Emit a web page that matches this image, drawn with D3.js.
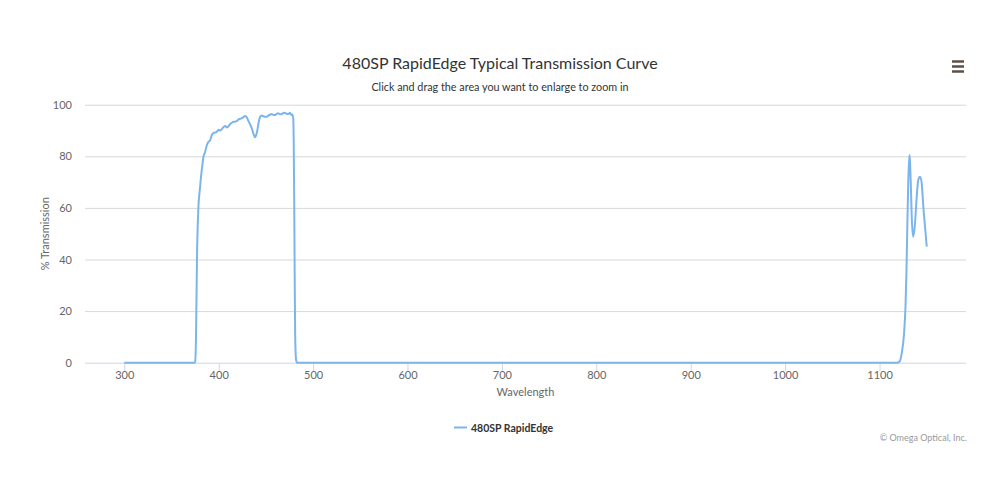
<!DOCTYPE html>
<html><head><meta charset="utf-8">
<script src="https://cdn.jsdelivr.net/npm/d3@7/dist/d3.min.js"></script>
<style>body{margin:0;background:#fff;} svg{font-family:Lato,"Open Sans",sans-serif;}</style>
</head><body>
<svg id="c" width="1000" height="500"></svg>
<script>
const chartTitle = "480SP RapidEdge Typical Transmission Curve";
const chartSubtitle = "Click and drag the area you want to enlarge to zoom in";
const seriesName = "480SP RapidEdge";
const xTicks = [300,400,500,600,700,800,900,1000,1100];
const yTicks = [0,20,40,60,80,100];
const wavelength = [300,350,370,374,375,376,377,378.5,380,381,382.5,384,385.5,387,389,391,392.5,394,396,398,400,401.5,403,405,407,408.5,410,412,414,415.5,417,419,421,422.5,424,426,428,429.5,431,433,435,437,438.5,440,441,442.5,444,445.5,447,449,451,453,454.5,456,458,460,461.5,463,465,467,468.5,470,472,474,475.5,477,478,479,479.5,480,480.5,481,482,483,490,600,800,1000,1100,1115,1119,1121.5,1123.5,1126,1127.5,1128.5,1129.5,1130.5,1131.6,1132.3,1133,1134.4,1135.8,1137.6,1139.4,1141,1143,1144.7,1146.4,1148.2,1150];
const transmission = [0,0,0,0,0.3,10,40,60,67,71,76,80,81.5,83.7,85.5,86.3,88,88.9,89.2,89.5,90.3,90,90.4,91.3,91.7,91.2,91.5,92.4,93.0,93.4,93.4,93.6,94.3,94.5,94.7,95.1,95.6,95.2,94.1,92.6,90.9,88.5,87.4,88.6,90.2,93.5,95.3,95.8,95.6,95.3,95.3,95.9,96.1,96.4,96.0,96.0,96.5,96.7,96.3,96.4,96.8,96.9,96.5,96.4,96.9,96.0,96.2,94.7,85,63,35,11,1,0,0,0,0,0,0,0,0,0.6,3.6,11.4,21.7,34.7,54,70.8,80.5,78,70.8,54,48.8,54,64.3,70.8,72.1,69.5,60.5,52.7,45];

const svg = d3.select("#c");
const m = {left:85, right:966, top:104.7, bottom:362.7};
const x = d3.scaleLinear().domain([258.4,1191.6]).range([m.left,m.right]);
const y = d3.scaleLinear().domain([0,100]).range([m.bottom,m.top]);

// gridlines
svg.append("g").selectAll("line").data(yTicks.filter(d=>d>0)).join("line")
  .attr("x1",m.left).attr("x2",m.right).attr("y1",d=>y(d)+0.5).attr("y2",d=>y(d)+0.5)
  .attr("stroke","#d8d8d8").attr("stroke-width",1);

// y labels
svg.append("g").selectAll("text").data(yTicks).join("text")
  .attr("x",72).attr("y",d=>y(d)+4).attr("text-anchor","end")
  .attr("font-size",11).attr("fill","#666").text(d=>d);

// x axis
const xAxis = d3.axisBottom(x).tickValues(xTicks).tickSize(8).tickFormat(d3.format("d"));
const gx = svg.append("g").attr("transform",`translate(0,${m.bottom+0.5})`).call(xAxis);
gx.select(".domain").attr("stroke","#ccd6eb").attr("d",`M${m.left},0H${m.right}`);
gx.selectAll(".tick line").attr("stroke","#ccd6eb");
gx.selectAll(".tick text").attr("fill","#666").attr("font-size",11).attr("y",15.5).attr("dy",0)
  .attr("font-family","Lato,sans-serif");

// axis titles
svg.append("text").attr("x",(m.left+m.right)/2).attr("y",395.5).attr("text-anchor","middle")
  .attr("font-size",11).attr("fill","#666").text("Wavelength");
svg.append("text").attr("transform",`translate(49,${(m.top+m.bottom)/2}) rotate(-90)`)
  .attr("text-anchor","middle").attr("font-size",11).attr("fill","#666").text("% Transmission");

// line
const pts = wavelength.map((w,i)=>[w,transmission[i]]);
const line = d3.line().x(d=>x(d[0])).y(d=>y(d[1])).curve(d3.curveMonotoneX);
svg.append("path").datum(pts).attr("d",line).attr("fill","none")
  .attr("stroke","#7cb5ec").attr("stroke-width",2).attr("stroke-linejoin","round");

// titles
svg.append("text").attr("x",500).attr("y",69).attr("text-anchor","middle")
  .attr("font-size",16).attr("fill","#333").text(chartTitle);
svg.append("text").attr("x",500).attr("y",91).attr("text-anchor","middle")
  .attr("font-size",10.8).attr("fill","#333").text(chartSubtitle);

// legend
const lg = svg.append("g");
lg.append("line").attr("x1",454).attr("x2",467).attr("y1",427.5).attr("y2",427.5)
  .attr("stroke","#7cb5ec").attr("stroke-width",2);
lg.append("text").attr("x",471).attr("y",431.5).attr("font-size",10.5).attr("font-weight","bold")
  .attr("fill","#333").text(seriesName);

// credits
svg.append("text").attr("x",967).attr("y",441).attr("text-anchor","end")
  .attr("font-size",9).attr("fill","#999").text("© Omega Optical, Inc.");

// menu icon
svg.append("g").selectAll("line").data([61.5,66.5,71.5]).join("line")
  .attr("x1",952).attr("x2",964).attr("y1",d=>d).attr("y2",d=>d)
  .attr("stroke","#5c5048").attr("stroke-width",2.5);
</script>
</body></html>
